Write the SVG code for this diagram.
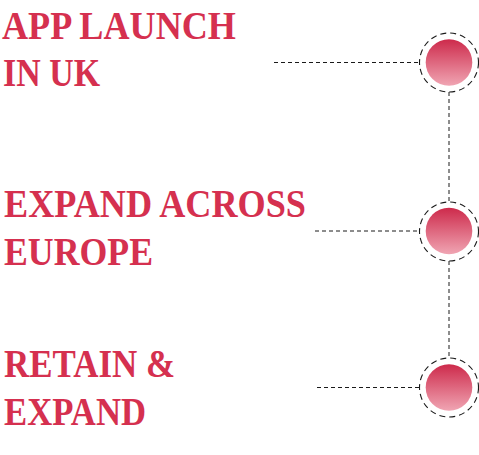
<svg xmlns="http://www.w3.org/2000/svg" width="479" height="455" viewBox="0 0 479 455">
<style>
.t{font-family:"Liberation Serif","Times New Roman",serif;font-weight:bold;font-size:39px;fill:#d5304f}
.d{fill:none;stroke:#1a1a1a;stroke-width:1;stroke-dasharray:4 3}
.ring{fill:#fff;stroke:#1a1a1a;stroke-width:1.1;stroke-dasharray:6 4}
.dot{fill:url(#g)}
</style>
<defs>
<linearGradient id="g" x1="0" y1="0" x2="0" y2="1">
<stop offset="0" stop-color="#cd2a4b"/>
<stop offset="1" stop-color="#f0a5b3"/>
</linearGradient>
</defs>
<g id="connectors">
<line class="d" x1="274" y1="62.5" x2="419" y2="62.5"/>
<line class="d" x1="315" y1="231" x2="419" y2="231"/>
<line class="d" x1="317" y1="387.5" x2="419" y2="387.5"/>
<line class="d" x1="449" y1="92" x2="449" y2="202"/>
<line class="d" x1="449" y1="261" x2="449" y2="358"/>
</g>
<g id="node1">
<text class="t" x="2" y="38.5" textLength="234" lengthAdjust="spacingAndGlyphs">APP LAUNCH</text>
<text class="t" x="3" y="85.5" textLength="97" lengthAdjust="spacingAndGlyphs">IN UK</text>
<circle class="ring" cx="449" cy="62.5" r="29.5"/>
<circle class="dot" cx="449" cy="62.5" r="23.3"/>
</g>
<g id="node2">
<text class="t" x="4" y="217.3" textLength="302" lengthAdjust="spacingAndGlyphs">EXPAND ACROSS</text>
<text class="t" x="4" y="265.3" textLength="149" lengthAdjust="spacingAndGlyphs">EUROPE</text>
<circle class="ring" cx="449" cy="231.5" r="29.5"/>
<circle class="dot" cx="449" cy="231" r="23.3"/>
</g>
<g id="node3">
<text class="t" x="4" y="376.7" textLength="171" lengthAdjust="spacingAndGlyphs">RETAIN &amp;</text>
<text class="t" x="4" y="425.3" textLength="142" lengthAdjust="spacingAndGlyphs">EXPAND</text>
<circle class="ring" cx="449" cy="387.5" r="29.5"/>
<circle class="dot" cx="449" cy="387.5" r="23.3"/>
</g>
</svg>
